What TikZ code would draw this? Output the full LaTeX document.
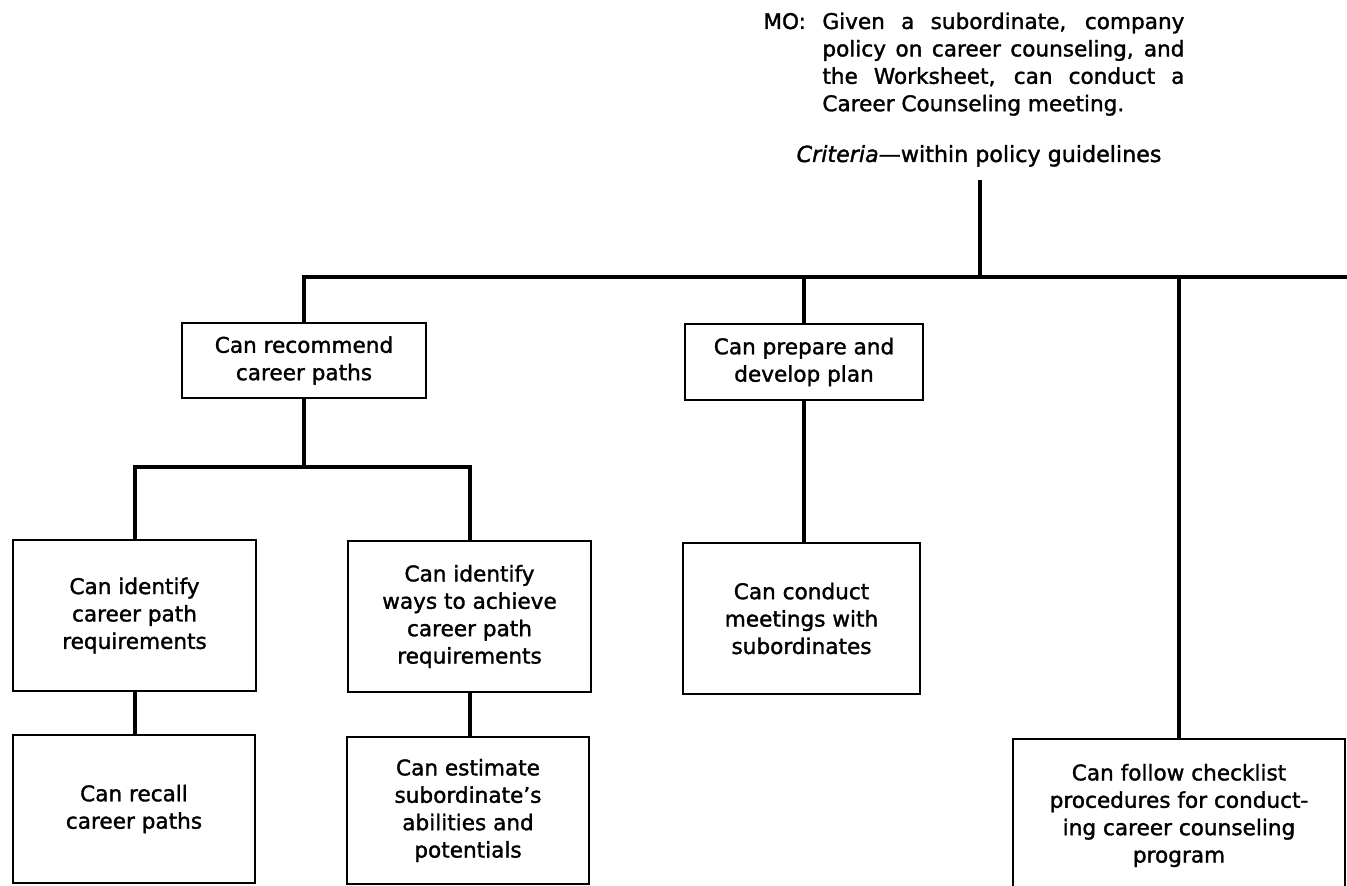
\documentclass[tikz,border=0pt]{standalone}
\usepackage{fontspec}
\setmainfont{DejaVu Sans}[FakeBold=1.5]
\usepackage{tikz}
\newcommand{\chartfont}{\fontsize{10.8}{13.7}\selectfont}
\tikzset{
    skill/.style={draw, line width=1pt, inner sep=0pt, align=center, font=\chartfont},
    link/.style={line width=2pt},
    caption/.style={inner sep=0pt, font=\chartfont},
}

\begin{document}
\begin{tikzpicture}[x=50pt, y=50pt]
            % Рамка
            \useasboundingbox (0,0) rectangle (13.47,-8.86);
            \clip (0,0) rectangle (13.47,-8.86);

            % Цель и критерий
            \node[caption, anchor=base west] (mo) at (7.63,-.29)
                {\makebox[29.5pt][l]{MO:}\parbox[t]{181pt}{%
                \makebox[181pt][s]{Given a subordinate, company}\\
                \makebox[181pt][s]{policy on career counseling, and}\\
                \makebox[181pt][s]{the Worksheet, can conduct a}\\
                Career Counseling meeting.}};
            \node[caption, anchor=base, font=\fontsize{11.1}{13.7}\selectfont] (crit) at (9.79,-1.62)
                {\textit{Criteria}---within policy guidelines};

            % Верхний уровень
            \node[skill, minimum width=122pt, minimum height=37.5pt] (rec) at (3.04,-3.605)
                {Can recommend\\career paths};
            \node[skill, minimum width=119pt, minimum height=38pt] (prep) at (8.04,-3.62)
                {Can prepare and\\develop plan};
            \node[skill, minimum width=166pt, minimum height=76.5pt] (check) at (11.79,-8.155)
                {Can follow checklist\\procedures for conduct-\\ing career counseling\\program};

            % Второй уровень
            \node[skill, minimum width=121.5pt, minimum height=75.5pt] (ident) at (1.345,-6.155)
                {Can identify\\career path\\requirements};
            \node[skill, minimum width=121.5pt, minimum height=75.5pt] (ways) at (4.695,-6.165)
                {Can identify\\ways to achieve\\career path\\requirements};
            \node[skill, minimum width=118.5pt, minimum height=75.5pt] (meet) at (8.015,-6.185)
                {Can conduct\\meetings with\\subordinates};

            % Нижний уровень
            \node[skill, minimum width=121pt, minimum height=74pt] (recall) at (1.34,-8.09)
                {Can recall\\career paths};
            \node[skill, minimum width=121pt, minimum height=73.5pt] (estim) at (4.68,-8.105)
                {Can estimate\\subordinate's\\abilities and\\potentials};

            % Линии
            \coordinate (stem) at (9.80,-1.80);
            \coordinate (barend) at (13.47,-2.77);
            \coordinate (split) at (3.04,-4.67);
            \draw[link] (stem) -- (stem |- barend);
            \draw[link] (rec.north) |- (barend);
            \draw[link] (prep.north) -- (prep.north |- barend);
            \draw[link] (check.north) -- (check.north |- barend);
            \draw[link] (rec.south) -- (split);
            \draw[link] (ident.north) |- (split) -| (ways.north);
            \draw[link] (ident.south) -- (ident.south |- recall.north);
            \draw[link] (ways.south) -- (ways.south |- estim.north);
            \draw[link] (prep.south) -- (prep.south |- meet.north);
        \end{tikzpicture}
\end{document}
